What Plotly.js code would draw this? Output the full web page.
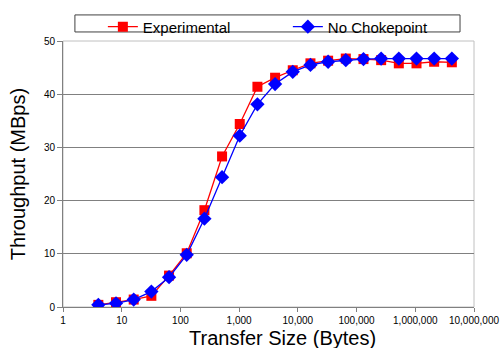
<!DOCTYPE html>
<html>
<head>
<meta charset="utf-8">
<script src="https://cdn.plot.ly/plotly-3.0.1.min.js"></script>
<style>html,body{margin:0;padding:0;background:#fff;}#chart{width:502px;height:348px;}</style>
</head>
<body>
<div id="chart"></div>
<script>
const transferSizes = [4, 8, 16, 32, 64, 128, 256, 512, 1024, 2048, 4096, 8192, 16384, 32768, 65536, 131072, 262144, 524288, 1048576, 2097152, 4194304];
const experimental = [0.4, 0.9, 1.4, 2.1, 5.9, 10.1, 18.2, 28.3, 34.4, 41.4, 43.1, 44.5, 45.8, 46.3, 46.7, 46.6, 46.4, 45.8, 45.8, 46.1, 46.0];
const noChokepoint = [0.4, 0.7, 1.4, 2.9, 5.6, 9.8, 16.6, 24.4, 32.2, 38.1, 41.9, 44.2, 45.5, 46.1, 46.4, 46.6, 46.7, 46.7, 46.7, 46.7, 46.7];
const xTickVals = [1, 10, 100, 1000, 10000, 100000, 1000000, 10000000];
const xTickText = ["1", "10", "100", "1,000", "10,000", "100,000", "1,000,000", "10,000,000"];
const yTickVals = [0, 10, 20, 30, 40, 50];
const xTitle = "Transfer Size (Bytes)";
const yTitle = "Throughput (MBps)";

const font = "Arial, 'Liberation Sans', sans-serif";

const traces = [
  {
    x: transferSizes, y: experimental, name: "Experimental", type: "scatter", mode: "lines+markers",
    line: {color: "#FF0000", width: 1.3},
    marker: {symbol: "square", size: 10, color: "#FF0000"}
  },
  {
    x: transferSizes, y: noChokepoint, name: "No Chokepoint", type: "scatter", mode: "lines+markers",
    line: {color: "#0000FF", width: 1.3},
    marker: {symbol: "diamond", size: 11, color: "#0000FF"}
  }
];

const layout = {
  width: 502, height: 348,
  margin: {l: 63, r: 28, t: 41, b: 41, pad: 0, autoexpand: false},
  paper_bgcolor: "#ffffff", plot_bgcolor: "#ffffff",
  font: {family: font, color: "#000"},
  showlegend: true,
  legend: {
    orientation: "h", x: 0.097, xanchor: "left", y: 0.97, yref: "container", yanchor: "top",
    bgcolor: "rgba(0,0,0,0)", borderwidth: 0,
    font: {family: font, size: 15, color: "#000"},
    entrywidth: 140, entrywidthmode: "pixels", itemwidth: 30
  },
  xaxis: {
    type: "log", range: [0, 7],
    tickvals: xTickVals, ticktext: xTickText,
    tickfont: {family: font, size: 10, color: "#000"},
    ticks: "outside", ticklen: 4, tickcolor: "#808080",
    showline: true, linecolor: "#808080", linewidth: 1,
    showgrid: false, zeroline: false
  },
  yaxis: {
    range: [0, 50], tickvals: yTickVals,
    tickfont: {family: font, size: 10, color: "#000"},
    ticks: "outside", ticklen: 5, tickcolor: "#808080",
    showline: true, linecolor: "#808080", linewidth: 1,
    showgrid: true, gridcolor: "#808080", gridwidth: 1,
    zeroline: false,
    title: {text: yTitle, font: {family: font, size: 20, color: "#000"}, standoff: 12}
  },
  annotations: [
    {text: xTitle, xref: "paper", yref: "paper", x: 0.535, y: -0.117, xanchor: "center", yanchor: "middle",
     showarrow: false, font: {family: font, size: 20, color: "#000"}}
  ],
  shapes: [
    {type: "rect", xref: "paper", yref: "paper", x0: 0, x1: 1, y0: 0, y1: 1,
     line: {color: "#c0c0c0", width: 1}, layer: "below"},
    {type: "rect", xref: "paper", yref: "paper", x0: 0.029, x1: 0.966, y0: 1.034, y1: 1.098,
     line: {color: "#404040", width: 1}, fillcolor: "rgba(0,0,0,0)", layer: "above"}
  ]
};

Plotly.newPlot("chart", traces, layout, {displayModeBar: false, staticPlot: true});
</script>
</body>
</html>
